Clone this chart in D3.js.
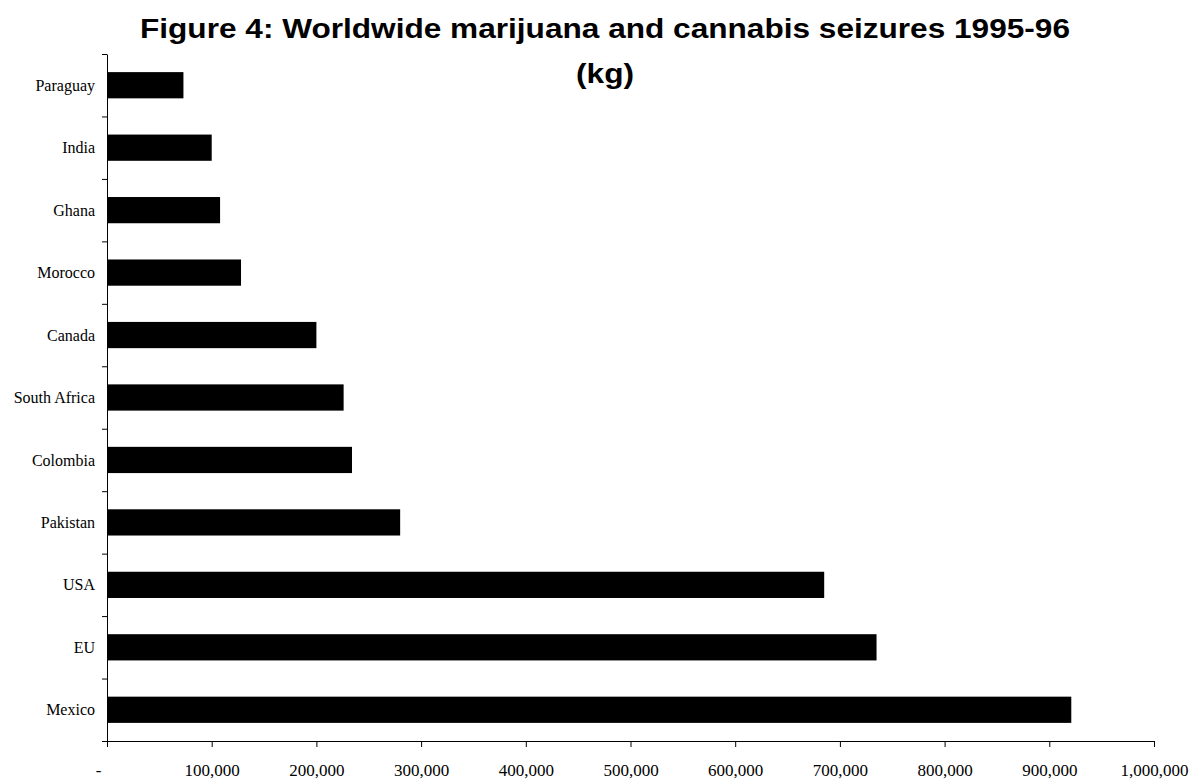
<!DOCTYPE html>
<html>
<head>
<meta charset="utf-8">
<script src="https://cdn.jsdelivr.net/npm/d3@7"></script>
<style>
  body { margin: 0; background: #fff; }
  svg { display: block; }
</style>
</head>
<body>
<div id="chart"></div>
<script>
// data, top to bottom as drawn
const countries = ['Paraguay', 'India', 'Ghana', 'Morocco', 'Canada', 'South Africa',
  'Colombia', 'Pakistan', 'USA', 'EU', 'Mexico'];
const seizures = [73000, 100000, 108000, 128000, 200000, 226000,
  234000, 280000, 685000, 735000, 921000];
const xTicks = [0, 100000, 200000, 300000, 400000, 500000, 600000, 700000, 800000, 900000, 1000000];
const titleLines = ['Figure 4: Worldwide marijuana and cannabis seizures 1995-96', '(kg)'];

const width = 1192;
const height = 781;
const margin = { top: 54, right: 38, bottom: 40, left: 107 };
const innerW = width - margin.left - margin.right;
const innerH = height - margin.top - margin.bottom;

const svg = d3.select('#chart').append('svg')
  .attr('width', width)
  .attr('height', height);

// title (the original font is a little wider, so stretch to its width)
const titleWidths = [930, 58];
svg.append('g')
  .selectAll('text')
  .data(titleLines)
  .join('text')
  .attr('x', 605)
  .attr('y', (d, i) => 38 + i * 45)
  .attr('text-anchor', 'middle')
  .attr('textLength', (d, i) => titleWidths[i])
  .attr('lengthAdjust', 'spacingAndGlyphs')
  .style('font-family', 'Arial, "Liberation Sans", sans-serif')
  .style('font-weight', 'bold')
  .style('font-size', '28px')
  .text(d => d);

const g = svg.append('g').attr('transform', `translate(${margin.left},${margin.top})`);

const x = d3.scaleLinear().domain([0, 1000000]).range([0, innerW]);
const y = d3.scaleBand().domain(countries).range([0, innerH])
  .paddingInner(0.58).paddingOuter(0.29);
// used only for the tick marks between categories
const yEdges = d3.scaleLinear().domain([0, countries.length]).range([0, innerH]);

g.selectAll('rect.bar')
  .data(countries)
  .join('rect')
  .attr('class', 'bar')
  .attr('x', 0)
  .attr('y', d => y(d))
  .attr('width', (d, i) => x(seizures[i]))
  .attr('height', y.bandwidth())
  .attr('fill', '#000');

// x axis
const fmt = d3.format(',');
const xAxis = g.append('g')
  .attr('transform', `translate(0,${innerH})`)
  .call(d3.axisBottom(x).tickValues(xTicks).tickSize(6).tickSizeOuter(0).tickPadding(17)
    .tickFormat(d => d === 0 ? '-' : fmt(d)));
xAxis.select('.domain').attr('stroke', '#000');
xAxis.selectAll('.tick line').attr('stroke', '#000');
xAxis.selectAll('.tick text')
  .attr('fill', '#000')
  .style('font-family', '"Times New Roman", "Liberation Serif", serif')
  .style('font-size', '17px');
xAxis.selectAll('.tick').filter(d => d === 0).select('text').attr('dx', -9);

// y axis: boundary ticks
const yAxis = g.append('g')
  .call(d3.axisLeft(yEdges).ticks(countries.length).tickSize(5).tickSizeOuter(0).tickFormat(''));
yAxis.select('.domain').attr('stroke', '#000');
yAxis.selectAll('.tick line').attr('stroke', '#000');

// category labels
g.append('g')
  .selectAll('text')
  .data(countries)
  .join('text')
  .attr('x', -12)
  .attr('y', d => y(d) + y.bandwidth() / 2)
  .attr('dy', '0.35em')
  .attr('text-anchor', 'end')
  .style('font-family', '"Times New Roman", "Liberation Serif", serif')
  .style('font-size', '16px')
  .text(d => d);
</script>
</body>
</html>
